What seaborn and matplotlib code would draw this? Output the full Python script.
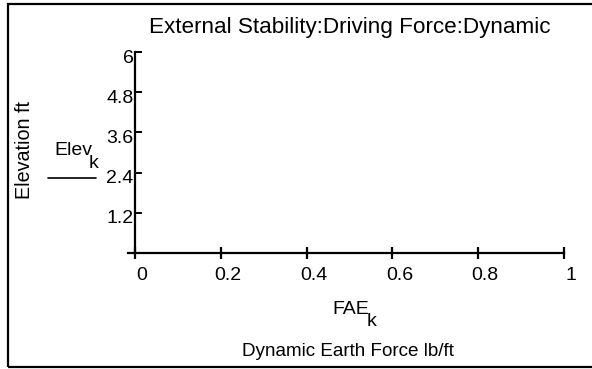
import numpy as np
import pandas as pd
import seaborn as sns
import matplotlib.pyplot as plt
import matplotlib.transforms as mtransforms
from matplotlib.patches import Rectangle

# Chart data (the plot holds no points, only the empty frame)
fae_k = []
elev_k = []
x_ticks = [0, 0.2, 0.4, 0.6, 0.8, 1]
x_labels = ["0", "0.2", "0.4", "0.6", "0.8", "1"]
y_ticks = [1.2, 2.4, 3.6, 4.8, 6]
y_labels = ["1.2", "2.4", "3.6", "4.8", "6"]

title = "External Stability:Driving Force:Dynamic"
x_title = "Dynamic Earth Force lb/ft"
y_title = "Elevation ft"

sns.set_theme(style="white")
plt.rcParams['font.family'] = ['Liberation Sans', 'DejaVu Sans']
plt.rcParams['text.color'] = 'black'

W, H = 592, 369
fig = plt.figure(figsize=(W / 100, H / 100), dpi=100)

# axes placed in pixel terms: x=0 at 135px, x=1 at 564px, y=0 at 253px, y=6 at 52px
px_per_unit = 564 - 135
x_left = -(135 - 128) / px_per_unit
ax = fig.add_axes([128 / W, (H - 253) / H, (564 - 128) / W, (253 - 52) / H])

df = pd.DataFrame({"FAE": pd.Series(fae_k, dtype=float),
                   "Elev": pd.Series(elev_k, dtype=float)})
sns.lineplot(data=df, x="FAE", y="Elev", ax=ax, color="black")

ax.set_xlim(x_left, 1)
ax.set_ylim(0, 6)
ax.set_facecolor("white")

for side in ["top", "right"]:
    ax.spines[side].set_visible(False)
ax.spines["left"].set_position(("data", 0))
for side in ["left", "bottom"]:
    ax.spines[side].set_linewidth(1.6)
    ax.spines[side].set_color("black")

ax.set_xticks(x_ticks)
ax.set_xticklabels(x_labels)
ax.set_yticks(y_ticks)
ax.set_yticklabels(y_labels)
ax.tick_params(axis="x", direction="inout", length=8, width=1.6, pad=6,
               labelsize=14, colors="black", bottom=True)
ax.tick_params(axis="y", direction="in", length=5, width=1.4, pad=1,
               labelsize=14, colors="black", left=True)

# nudge tick labels like the original rendering
xoff = mtransforms.ScaledTranslation(7 / 100, 0, fig.dpi_scale_trans)
for lbl in ax.get_xticklabels():
    lbl.set_transform(lbl.get_transform() + xoff)
yoff = mtransforms.ScaledTranslation(0, -4 / 100, fig.dpi_scale_trans)
for lbl in ax.get_yticklabels():
    lbl.set_transform(lbl.get_transform() + yoff)

ax.set_xlabel("")
ax.set_ylabel("")

fig.text(350 / W, 1 - 28 / H, title, ha="center", va="center", fontsize=16.2)
fig.text(348 / W, 1 - 352 / H, x_title, ha="center", va="center", fontsize=13.6)
fig.text(25 / W, 1 - 150 / H, y_title, ha="center", va="center",
         rotation=90, fontsize=14.2)

# series names with subscript
fig.text(332 / W, 1 - 314 / H, "FAE", ha="left", va="baseline", fontsize=14)
fig.text(367 / W, 1 - 326 / H, "k", ha="left", va="baseline", fontsize=14)
fig.text(54 / W, 1 - 155 / H, "Elev", ha="left", va="baseline", fontsize=14)
fig.text(89 / W, 1 - 168 / H, "k", ha="left", va="baseline", fontsize=14)
fig.add_artist(plt.Line2D([48 / W, 96 / W], [1 - 178 / H, 1 - 178 / H],
                          color="black", linewidth=1.2))

# frame around the whole picture (right edge falls outside the image)
fig.add_artist(Rectangle((8 / W, 2 / H), 1.2, 1 - 6 / H, fill=False,
                         edgecolor="black", linewidth=1.6,
                         transform=fig.transFigure))

fig.savefig("out.png", dpi=100)
